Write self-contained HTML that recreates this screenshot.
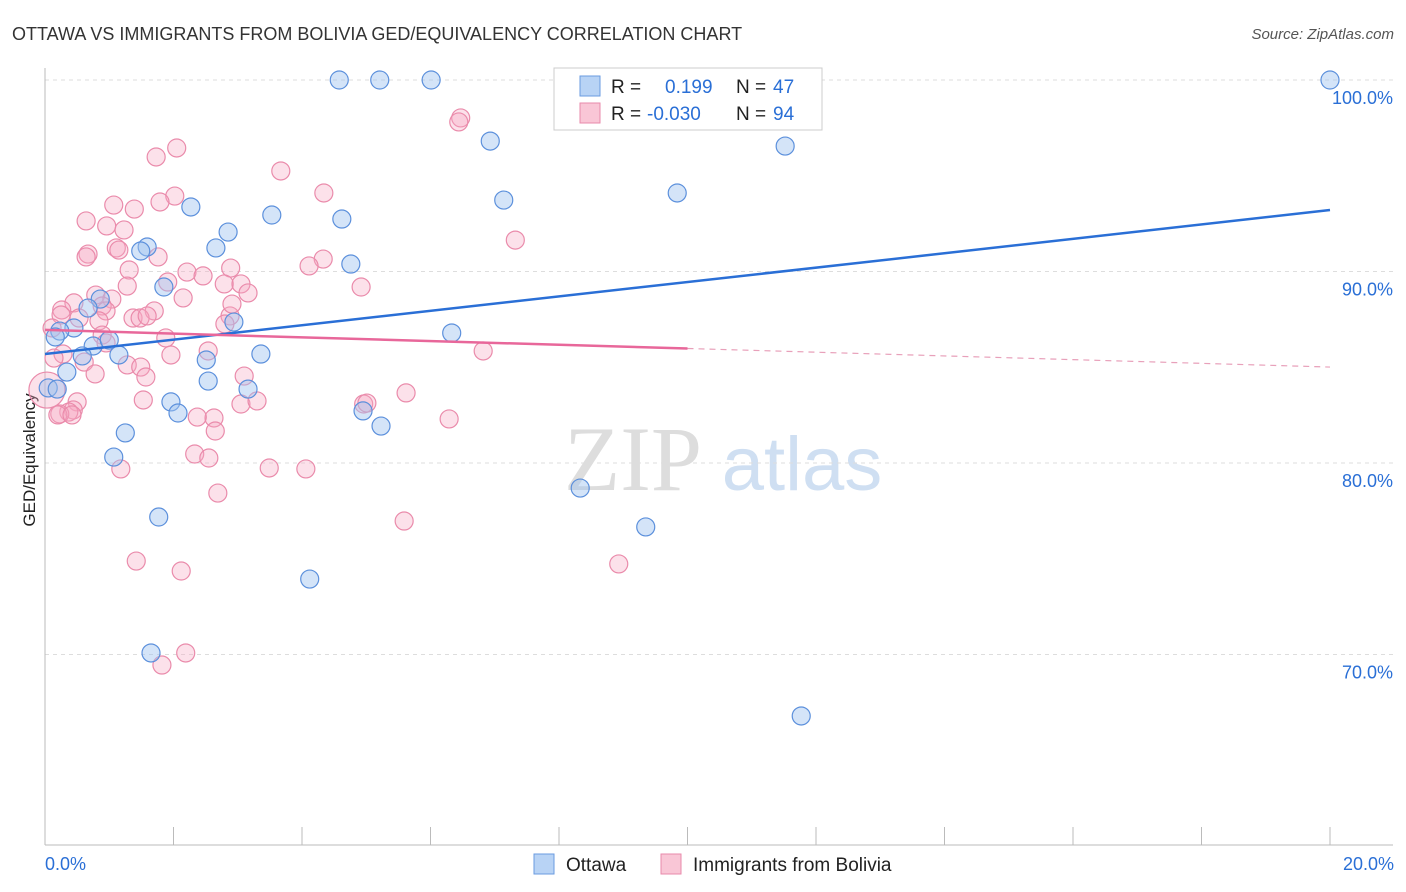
<!DOCTYPE html>
<html><head><meta charset="utf-8"><style>
body{margin:0;background:#fff;font-family:"Liberation Sans",sans-serif}
svg{display:block}
</style></head><body>
<svg id="c" width="1406" height="892" xmlns="http://www.w3.org/2000/svg">
<text x="12" y="40" font-size="18" fill="#333">OTTAWA VS IMMIGRANTS FROM BOLIVIA GED/EQUIVALENCY CORRELATION CHART</text>
<text x="1394" y="39" font-size="15" fill="#555" font-style="italic" text-anchor="end">Source: ZipAtlas.com</text>
<text x="35" y="460" font-size="17" fill="#222" text-anchor="middle" transform="rotate(-90 35 460)">GED/Equivalency</text>
<g><text x="633" y="490" font-size="92" fill="#ddd" font-family="Liberation Serif,serif" text-anchor="middle">ZIP</text><text x="802" y="490" font-size="76" fill="#cfdff2" text-anchor="middle">atlas</text></g>
<g id="grid"></g><g id="axes"></g><g id="pts"></g><g id="lines"></g>
<g>
<rect x="554" y="68" width="268" height="62" fill="#fff" stroke="#ccc"/>
<rect x="580" y="76" width="20" height="20" fill="#b8d3f5" stroke="#6a9be0"/>
<text x="611" y="93" font-size="19" fill="#222">R = </text><text x="665" y="93" font-size="19" fill="#2a6fd6">0.199</text>
<text x="736" y="93" font-size="19" fill="#222">N = </text><text x="773" y="93" font-size="19" fill="#2a6fd6">47</text>
<rect x="580" y="103" width="20" height="20" fill="#f9c6d6" stroke="#e88aab"/>
<text x="611" y="120" font-size="19" fill="#222">R = </text><text x="647" y="120" font-size="19" fill="#2a6fd6">-0.030</text>
<text x="736" y="120" font-size="19" fill="#222">N = </text><text x="773" y="120" font-size="19" fill="#2a6fd6">94</text>
</g>
<g>
<rect x="534" y="854" width="20" height="20" fill="#b8d3f5" stroke="#6a9be0"/><text x="566" y="871" font-size="19" fill="#222">Ottawa</text>
<rect x="661" y="854" width="20" height="20" fill="#f9c6d6" stroke="#e88aab"/><text x="693" y="871" font-size="19" fill="#222">Immigrants from Bolivia</text>
</g>
</svg>
<script>
const yTicks=[100,90,80,70];
const xTickLabels=["0.0%","20.0%"];
const ottawaX=[4.58,5.21,6.01,20.0,6.93,11.52,7.14,9.84,2.27,3.53,4.62,2.85,1.59,1.49,2.66,4.76,1.85,0.86,0.67,2.94,0.45,0.23,0.16,6.33,0.75,1.00,0.58,1.15,3.36,2.51,0.34,2.54,3.16,0.05,1.96,2.07,4.95,5.23,1.25,1.07,8.33,1.77,9.35,4.12,1.65,11.77,0.19];
const ottawaY=[100,100,100,100,96.81,96.55,93.73,94.10,93.37,92.95,92.74,92.06,91.28,91.07,91.23,90.39,89.19,88.56,88.09,87.36,87.05,86.89,86.58,86.79,86.11,86.42,85.59,85.64,85.69,85.38,84.75,84.28,83.86,83.92,83.19,82.61,82.72,81.93,81.57,80.31,78.69,77.18,76.66,73.94,70.08,66.79,83.86];
const boliviaX=[6.47,6.44,2.05,1.73,3.67,4.34,2.02,1.79,1.07,1.39,0.64,0.96,1.23,1.11,1.15,0.67,0.64,1.76,7.32,4.33,4.11,2.89,1.31,2.21,2.46,1.91,2.79,3.05,4.92,3.16,2.15,0.79,1.04,0.45,0.26,0.89,0.95,1.28,0.53,0.25,1.70,1.37,1.48,1.59,2.88,2.80,0.84,0.11,0.89,1.88,0.95,2.54,1.96,0.28,0.14,0.61,1.28,1.49,0.78,1.57,3.10,6.82,5.62,4.96,1.53,0.50,3.05,3.30,0.44,0.37,0.23,2.63,6.29,2.65,2.33,2.55,1.18,3.49,4.06,2.69,5.59,1.42,2.12,8.93,2.19,1.82,2.37,0.20,2.91,5.01,0.42,0.03];
const boliviaY=[98.02,97.81,96.45,95.98,95.25,94.10,93.94,93.63,93.47,93.26,92.64,92.38,92.17,91.23,91.12,90.91,90.76,90.76,91.64,90.65,90.29,90.18,90.08,89.97,89.77,89.45,89.35,89.35,89.19,88.88,88.62,88.77,88.56,88.36,87.99,88.20,87.94,89.24,87.57,87.73,87.94,87.57,87.57,87.68,87.68,87.26,87.42,87.05,86.68,86.53,86.27,85.85,85.64,85.69,85.48,85.27,85.12,85.01,84.65,84.49,84.54,85.85,83.66,83.08,83.29,83.19,83.08,83.24,82.77,82.66,82.56,82.35,82.30,81.67,80.47,80.26,79.69,79.74,79.69,78.43,76.97,74.88,74.36,74.73,70.08,69.45,82.40,82.51,88.30,83.13,82.51,83.81];
const ottawaTrend=[85.69,93.21];
const boliviaTrend=[86.95,85.01];
const NS="http://www.w3.org/2000/svg";
const sx=v=>45+v*64.25, sy=v=>80+(100-v)*19.15;
function mk(t,a,p){const e=document.createElementNS(NS,t);for(const k in a)e.setAttribute(k,a[k]);p.appendChild(e);return e;}
const grid=document.getElementById('grid'),axes=document.getElementById('axes'),pts=document.getElementById('pts'),lines=document.getElementById('lines');
yTicks.forEach(t=>{const l=mk('line',{x1:45,x2:1393,y1:sy(t),y2:sy(t),stroke:'#ddd','stroke-dasharray':'4,4'},grid);


const tx=mk('text',{x:1393,y:sy(t)+24,'font-size':18,fill:'#2a6fd6','text-anchor':'end'},axes);tx.textContent=t.toFixed(1)+'%';

});
const ax=mk('line',{x1:45,x2:45,y1:68,y2:845,stroke:'#bbb'},axes);


const bx=mk('line',{x1:45,x2:1393,y1:845,y2:845,stroke:'#bbb'},axes);


for(let i=0;i<=10;i++){const t=mk('line',{x1:sx(i*2),x2:sx(i*2),y1:827,y2:845,stroke:'#bbb'},axes);

}
[[0,'start'],[20,'end']].forEach((p,i)=>{const t=mk('text',{x:sx(p[0])+(i?64:0),y:870,'font-size':18,fill:'#2a6fd6','text-anchor':p[1]},axes);t.textContent=xTickLabels[i];

});
boliviaX.forEach((x,i)=>{const c=mk('circle',{cx:sx(x),cy:sy(boliviaY[i]),r:i==boliviaX.length-1?18:9,fill:'rgba(246,170,196,0.35)',stroke:'#ea8bab','stroke-width':1.2},pts);

});
ottawaX.forEach((x,i)=>{const c=mk('circle',{cx:sx(x),cy:sy(ottawaY[i]),r:9,fill:'rgba(160,196,240,0.45)',stroke:'#5c90dc','stroke-width':1.2},pts);

});
const bl=mk('line',{x1:sx(0),y1:sy(ottawaTrend[0]),x2:sx(20),y2:sy(ottawaTrend[1]),stroke:'#2a6fd6','stroke-width':2.5},lines);


const pm=(boliviaTrend[0]+boliviaTrend[1])/2;
const pl=mk('line',{x1:sx(0),y1:sy(boliviaTrend[0]),x2:sx(10),y2:sy(pm),stroke:'#e8679a','stroke-width':2.5},lines);


const pd=mk('line',{x1:sx(10),y1:sy(pm),x2:sx(20),y2:sy(boliviaTrend[1]),stroke:'#e8a0ba','stroke-width':1.2,'stroke-dasharray':'6,5'},lines);


</script>
</body></html>
